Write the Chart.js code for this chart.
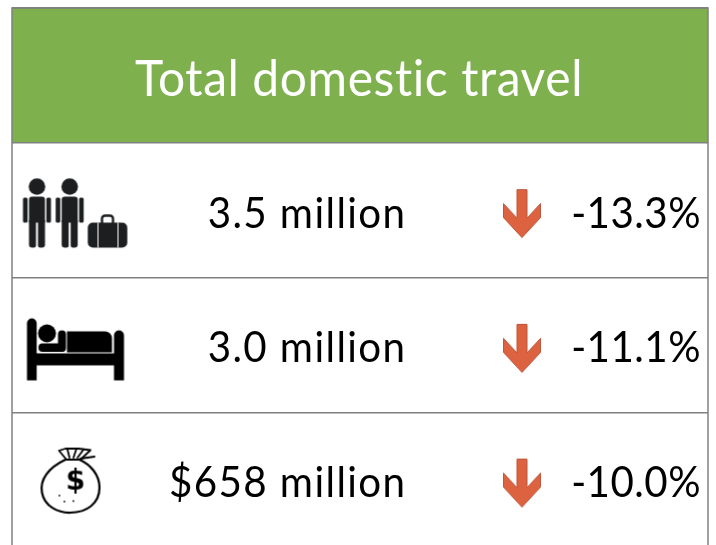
<!DOCTYPE html>
<html>
<head>
<meta charset="utf-8">
<title>Total domestic travel</title>
<style>
  html, body { margin: 0; padding: 0; background: #fff; overflow: hidden; }
  canvas { display: block; }
</style>
<script src="https://cdn.jsdelivr.net/npm/chart.js@4/dist/chart.umd.min.js"></script>
</head>
<body>
<canvas id="chart" width="716" height="560"></canvas>
<script>
  const titleText = "Total domestic travel";
  const rowNames = ["Visitors", "Nights", "Spend"];
  const rowTotals = ["3.5 million", "3.0 million", "$658 million"];
  const rowChanges = [-13.3, -11.1, -10.0];

  const ICON_X = 75.5, TOTAL_RIGHT = 406.5, ARROW_X = 522, CHANGE_RIGHT = 701;
  const FONT_NAME = "Lato, 'Open Sans', sans-serif";
  const TEXT_SQUEEZE = 0.96;

  /* offscreen icon, origin at the centre of the table row */
  function makeIcon(w, h, paint) {
    const c = document.createElement("canvas");
    c.width = w;
    c.height = h;
    const g = c.getContext("2d");
    g.translate(w / 2, h / 2);
    paint(g);
    return c;
  }

  function rounded(g, x, y, w, h, r) {
    g.beginPath();
    g.roundRect(x, y, w, h, r);
    g.fill();
  }

  function person(g, dx) {
    g.beginPath();
    g.arc(dx, -23.5, 8.3, 0, Math.PI * 2);
    g.fill();
    rounded(g, dx - 8, -13.5, 16, 26, [3, 3, 0, 0]);
    rounded(g, dx - 8, 10, 7, 27.5, [0, 0, 2, 3]);
    rounded(g, dx + 1, 10, 7, 27.5, [0, 0, 3, 2]);
    rounded(g, dx - 14, -12.5, 4.6, 25, 1.5);
    rounded(g, dx + 9.4, -12.5, 4.6, 25, 1.5);
  }

  const peopleIcon = makeIcon(120, 100, (g) => {
    g.fillStyle = "#1d1e20";
    person(g, -38.5);
    person(g, -5.8);
    // suitcase
    g.strokeStyle = "#1d1e20";
    g.lineWidth = 2.4;
    g.beginPath();
    g.roundRect(26.5, 5.5, 11, 10, 3);
    g.stroke();
    rounded(g, 12.3, 12.5, 39.5, 25, 5);
    g.fillStyle = "#fff";
    g.fillRect(22, 12.5, 1, 25);
    g.fillRect(42, 12.5, 1, 25);
  });

  const bedIcon = makeIcon(120, 100, (g) => {
    g.fillStyle = "#000";
    // frame
    rounded(g, -48.5, -26.5, 9.7, 62, [5, 5, 0, 0]);
    rounded(g, 38.5, -14.5, 10, 50, [5, 5, 0, 0]);
    g.fillRect(-40, 8.5, 80, 12);
    // sleeper
    g.beginPath();
    g.arc(-28.5, -11.5, 9, 0, Math.PI * 2);
    g.fill();
    rounded(g, -37, -1.5, 27, 8.5, 4);
    rounded(g, -17.5, -14.5, 8, 21.5, 4);
    rounded(g, -8.5, -13.5, 45, 21, [0, 7, 0, 0]);
  });

  const bagIcon = makeIcon(120, 100, (g) => {
    g.strokeStyle = "#000";
    g.fillStyle = "#000";
    g.lineCap = "round";
    g.lineJoin = "round";
    g.save();
    g.translate(-5, 0);
    g.lineWidth = 2.2;
    // sack
    g.beginPath();
    g.moveTo(-5, -20);
    g.bezierCurveTo(-22, -12, -31, 0, -28.5, 13);
    g.bezierCurveTo(-26, 27, -12, 33.5, 0, 33);
    g.bezierCurveTo(16, 33, 29, 24, 29, 8);
    g.bezierCurveTo(29, -5, 20, -15, 9, -20);
    g.stroke();
    // knot
    g.lineWidth = 1.8;
    g.beginPath();
    g.moveTo(-4, -20);
    g.lineTo(-11.5, -29);
    g.lineTo(-5, -31);
    g.lineTo(8, -31);
    g.lineTo(20, -29.5);
    g.lineTo(10, -20);
    g.closePath();
    g.stroke();
    g.beginPath();
    g.moveTo(-3, -30);
    g.lineTo(-1, -22);
    g.moveTo(6, -31);
    g.lineTo(3, -22);
    g.moveTo(13, -30);
    g.lineTo(7, -22);
    g.moveTo(-5, -20);
    g.lineTo(10, -20);
    g.moveTo(10, -21);
    g.lineTo(24, -23);
    g.stroke();
    g.restore();
    // dollar sign and specks
    g.font = "bold 28px 'DejaVu Sans', sans-serif";
    g.textAlign = "center";
    g.textBaseline = "middle";
    g.fillText("$", 0, 2.5);
    [[-17, 15], [-12, 21], [-3, 20.5]].forEach((p) => rounded(g, p[0], p[1], 1.8, 1.8, 1));
  });

  const arrowIcon = makeIcon(44, 60, (g) => {
    g.beginPath();
    g.moveTo(-5, -20.5);
    g.lineTo(5, -20.5);
    g.lineTo(5, 8);
    g.lineTo(18.5, -6.5);
    g.lineTo(18.5, 7.5);
    g.lineTo(0, 27.5);
    g.lineTo(-18.5, 7.5);
    g.lineTo(-18.5, -6.5);
    g.lineTo(-5, 8);
    g.closePath();
    g.fillStyle = "#dc6240";
    g.fill();
    g.strokeStyle = "#bd573d";
    g.lineWidth = 1;
    g.stroke();
  });

  const icons = [peopleIcon, bedIcon, bagIcon];

  function label(ctx, text, x, y, size, spacing, color, align) {
    ctx.save();
    ctx.translate(x, y);
    ctx.scale(TEXT_SQUEEZE, 1);
    ctx.font = size + "px " + FONT_NAME;
    ctx.letterSpacing = spacing + "px"; // also stops the Lato "ti" ligature
    ctx.fillStyle = color;
    ctx.textAlign = align;
    ctx.textBaseline = "alphabetic";
    ctx.fillText(text, 0, 0);
    ctx.restore();
  }

  const tablePlugin = {
    id: "tablePlugin",
    beforeDraw(chart) {
      const { ctx, chartArea, scales } = chart;
      const y = scales.y;
      const step = y.getPixelForValue(rowNames[0]) - y.getPixelForValue(titleText);
      ctx.fillStyle = "#7fb04e";
      ctx.fillRect(chartArea.left, chartArea.top, chartArea.width, step);
    },
    afterDatasetsDraw(chart) {
      const { ctx, chartArea, scales } = chart;
      const x = scales.x, y = scales.y;
      const mid = (chartArea.left + chartArea.right) / 2;
      label(ctx, titleText, mid - 1, y.getPixelForValue(titleText) + 20.5, 50, 0.6, "#fff", "center");
      rowNames.forEach((name, i) => {
        const base = y.getPixelForValue(name) + 17.5;
        label(ctx, rowTotals[i], x.getPixelForValue(TOTAL_RIGHT), base, 42, 1.45, "#000", "right");
        label(ctx, rowChanges[i].toFixed(1) + "%", x.getPixelForValue(CHANGE_RIGHT), base, 42, 0.5, "#000", "right");
      });
      ctx.strokeStyle = "#808080";
      ctx.lineWidth = 1.5;
      ctx.strokeRect(chartArea.left, chartArea.top, chartArea.width, chartArea.height);
    }
  };

  new Chart(document.getElementById("chart"), {
    type: "scatter",
    data: {
      datasets: [
        {
          label: "Icons",
          data: rowNames.map((name) => ({ x: ICON_X, y: name })),
          pointStyle: icons,
          pointRadius: 1
        },
        {
          label: "Change",
          data: rowNames.map((name) => ({ x: ARROW_X, y: name })),
          pointStyle: arrowIcon,
          pointRadius: 1
        }
      ]
    },
    options: {
      responsive: false,
      animation: false,
      devicePixelRatio: 1,
      layout: { autoPadding: false, padding: { left: 12, right: 8, top: 8, bottom: 13 } },
      plugins: { legend: { display: false }, tooltip: { enabled: false } },
      scales: {
        x: { type: "linear", min: 12, max: 708, display: false },
        y: {
          type: "category",
          labels: [titleText].concat(rowNames),
          offset: true,
          grid: { offset: true, drawTicks: false, color: "#808080", lineWidth: 1.5 },
          border: { display: false },
          ticks: { display: false }
        }
      }
    },
    plugins: [tablePlugin]
  });
</script>
</body>
</html>
